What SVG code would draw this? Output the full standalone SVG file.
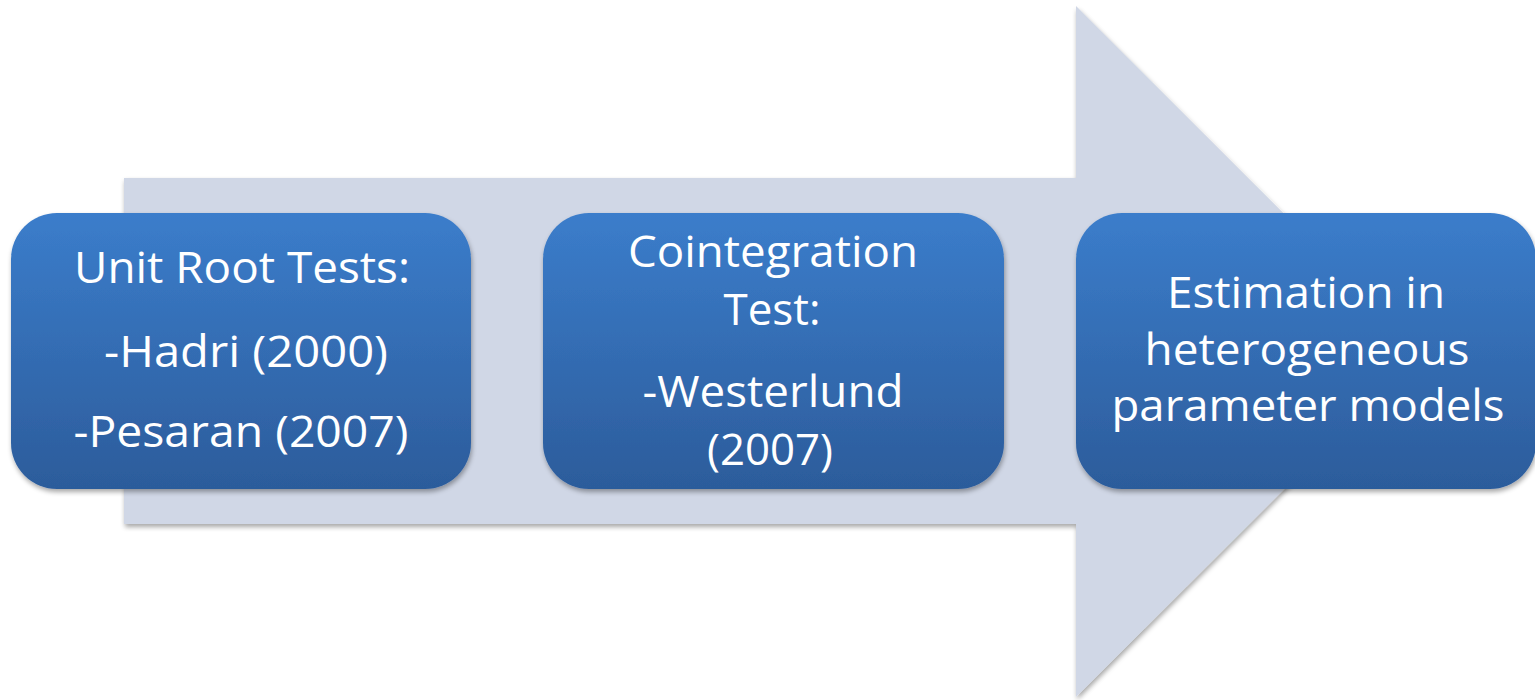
<svg xmlns="http://www.w3.org/2000/svg" width="1535" height="700" viewBox="0 0 1535 700">
  <defs>
    <linearGradient id="boxFill" x1="0" y1="0" x2="0" y2="1">
      <stop offset="0" stop-color="#3b7dcb"/>
      <stop offset="1" stop-color="#2c5c9b"/>
    </linearGradient>
    <filter id="shadow" x="-5%" y="-5%" width="110%" height="115%">
      <feGaussianBlur in="SourceAlpha" stdDeviation="2.5"/>
      <feOffset dx="1" dy="3" result="off"/>
      <feComponentTransfer><feFuncA type="linear" slope="0.35"/></feComponentTransfer>
      <feMerge><feMergeNode/><feMergeNode in="SourceGraphic"/></feMerge>
    </filter>
    <style>
      .box { fill: url(#boxFill); filter: url(#shadow); }
      .lbl { font-family: "Open Sans", "Noto Sans", "Liberation Sans", sans-serif; font-size: 44px; fill: #ffffff; text-anchor: middle; }
    </style>
  </defs>
  <rect width="1535" height="700" fill="#ffffff"/>

  <!-- background process arrow -->
  <g id="arrow">
    <path d="M124,178 H1076 V6 L1422,351.5 L1076,697 V524 H124 Z" fill="#d0d7e6" filter="url(#shadow)"/>
  </g>

  <g id="connectors"></g>

  <g id="node-unit-root">
    <rect class="box" x="11" y="213" width="460" height="276" rx="46" ry="46"/>
    <text class="lbl" x="242" y="283" textLength="336" lengthAdjust="spacingAndGlyphs">Unit Root Tests:</text>
    <text class="lbl" x="246" y="367" textLength="284" lengthAdjust="spacingAndGlyphs">-Hadri (2000)</text>
    <text class="lbl" x="241" y="447" textLength="335" lengthAdjust="spacingAndGlyphs">-Pesaran (2007)</text>
  </g>

  <g id="node-cointegration">
    <rect class="box" x="543" y="213" width="461" height="276" rx="46" ry="46"/>
    <text class="lbl" x="773" y="267" textLength="290" lengthAdjust="spacingAndGlyphs">Cointegration</text>
    <text class="lbl" x="772" y="325" textLength="97" lengthAdjust="spacingAndGlyphs">Test:</text>
    <text class="lbl" x="773" y="407" textLength="261" lengthAdjust="spacingAndGlyphs">-Westerlund</text>
    <text class="lbl" x="770" y="465" textLength="126" lengthAdjust="spacingAndGlyphs">(2007)</text>
  </g>

  <g id="node-estimation">
    <rect class="box" x="1076" y="213" width="460" height="276" rx="46" ry="46"/>
    <text class="lbl" x="1306" y="308" textLength="278" lengthAdjust="spacingAndGlyphs">Estimation in</text>
    <text class="lbl" x="1307" y="365" textLength="325" lengthAdjust="spacingAndGlyphs">heterogeneous</text>
    <text class="lbl" x="1308" y="421" textLength="393" lengthAdjust="spacingAndGlyphs">parameter models</text>
  </g>
</svg>
